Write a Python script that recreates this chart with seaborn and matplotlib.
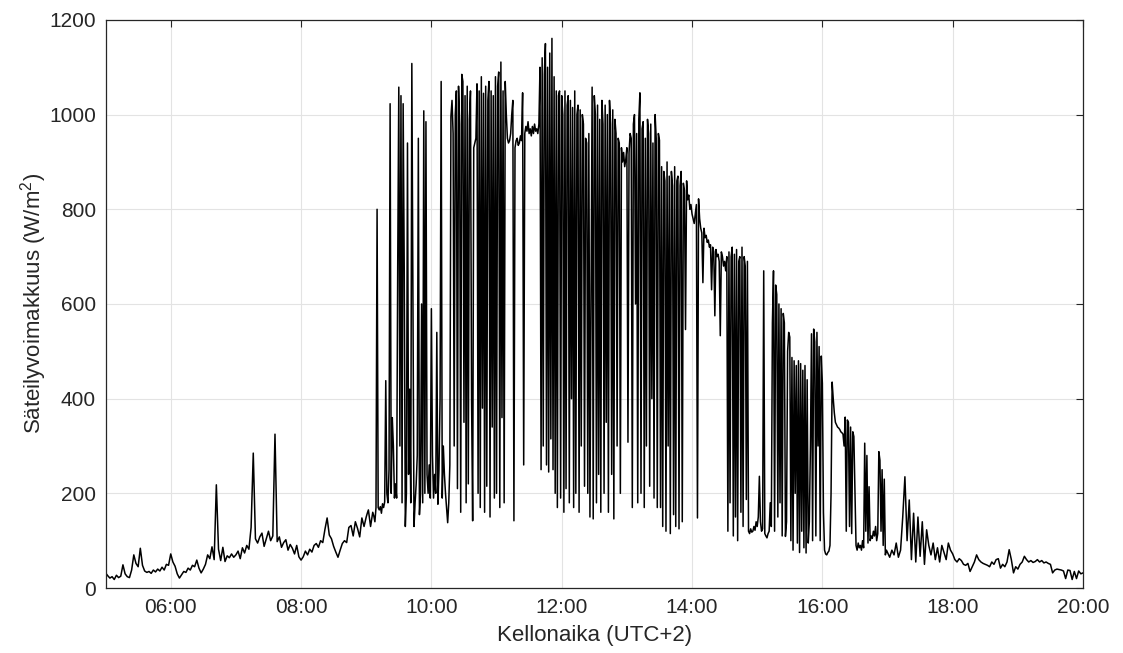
import numpy as np
import pandas as pd
import matplotlib
matplotlib.use('Agg')
import matplotlib.pyplot as plt
import matplotlib.dates as mdates
import seaborn as sns

# Säteilyvoimakkuus (W/m2), yksi lista per tunti (05-08 ja 17-19: 2 min välein, 09-16: 1 min välein)
h05 = [32, 26, 21, 24, 18, 27, 22, 25, 49, 30, 24, 22, 38, 70, 52, 45, 84, 48, 36, 33,
       35, 31, 38, 34, 40, 36, 44, 38, 50, 48]
h06 = [72, 55, 46, 30, 21, 28, 35, 33, 42, 38, 48, 45, 59, 42, 32, 40, 50, 70, 62, 87,
       60, 218, 82, 58, 86, 56, 68, 64, 72, 65]
h07 = [70, 78, 62, 85, 74, 90, 82, 128, 285, 104, 95, 108, 116, 88, 104, 120, 100, 110, 325, 98,
       108, 86, 96, 102, 80, 92, 84, 72, 90, 66]
h08 = [59, 66, 78, 70, 82, 76, 90, 94, 86, 100, 96, 124, 148, 112, 104, 88, 76, 65, 80, 94,
       100, 96, 128, 132, 110, 140, 126, 108, 148, 130]
h09 = [150, 158, 165, 148, 130, 145, 160, 152, 140, 170,
       800, 170, 165, 172, 158, 178, 170, 182, 438, 200,
       180, 250, 1023, 200, 360, 300, 190, 220, 190, 680,
       1058, 300, 1040, 180, 1023, 677, 130, 200, 940, 240,
       420, 180, 1108, 600, 130, 180, 220, 280, 950, 155,
       200, 600, 180, 1008, 200, 985, 240, 200, 260, 190]
h10 = [590, 280, 190, 240, 200, 540, 177, 250, 400, 1070,
       190, 300, 240, 200, 170, 138, 180, 260, 996, 1030,
       960, 300, 1000, 1050, 210, 1060, 980, 160, 1085, 1070,
       350, 1040, 180, 1060, 220, 990, 1050, 400, 142, 930,
       940, 950, 1065, 200, 1050, 170, 1080, 380, 1045, 160,
       1060, 215, 1030, 1070, 150, 1050, 340, 1040, 190, 1080]
h11 = [200, 1060, 1090, 170, 1111, 360, 1050, 180, 1070, 1000,
       950, 940, 945, 960, 1000, 1030, 142, 930, 945, 950,
       935, 940, 955, 945, 1046, 260, 960, 975, 965, 985,
       960, 970, 955, 975, 960, 980, 965, 970, 960, 980,
       1100, 250, 1120, 300, 1085, 1150, 260, 1100, 245, 1130,
       315, 1161, 250, 1080, 200, 1050, 170, 1040, 1050, 190]
h12 = [1040, 1000, 160, 1050, 210, 1020, 1040, 180, 1030, 400,
       1015, 170, 1050, 200, 1000, 1020, 160, 1010, 300, 1000,
       980, 215, 950, 940, 200, 960, 150, 600, 1058, 146,
       1040, 1000, 180, 1020, 240, 990, 160, 1030, 980, 200,
       1020, 350, 1000, 160, 1030, 980, 240, 1010, 146, 990,
       960, 300, 950, 940, 200, 930, 900, 920, 890, 905]
h13 = [930, 308, 920, 960, 950, 170, 980, 1000, 600, 960,
       180, 990, 1046, 200, 970, 985, 170, 950, 300, 990,
       960, 215, 980, 400, 940, 190, 1000, 950, 170, 960,
       946, 170, 890, 130, 880, 860, 120, 900, 300, 870,
       115, 880, 850, 155, 890, 130, 860, 870, 125, 850,
       880, 140, 855, 840, 546, 860, 820, 830, 800, 810]
h14 = [790, 780, 770, 790, 810, 148, 822, 780, 760, 750,
       645, 760, 740, 745, 730, 735, 720, 725, 630, 720,
       710, 575, 715, 700, 705, 690, 533, 710, 700, 680,
       690, 670, 700, 120, 710, 180, 700, 720, 110, 705,
       150, 715, 100, 690, 700, 160, 720, 130, 700, 680,
       187, 690, 120, 115, 125, 118, 120, 130, 122, 140]
h15 = [130, 150, 236, 140, 120, 125, 670, 115, 110, 106,
       115, 120, 180, 130, 560, 670, 120, 640, 620, 150,
       600, 180, 590, 110, 580, 560, 109, 140, 500, 540,
       530, 100, 487, 80, 480, 200, 470, 95, 480, 75,
       474, 120, 460, 85, 470, 74, 440, 95, 140, 300,
       537, 100, 547, 520, 110, 540, 300, 510, 100, 490]
h16 = [432, 160, 80, 72, 70, 75, 78, 90, 200, 435,
       400, 370, 350, 345, 340, 338, 335, 330, 328, 325,
       300, 361, 120, 355, 350, 130, 340, 115, 330, 320,
       200, 90, 80, 95, 85, 90, 80, 100, 85, 306,
       120, 280, 95, 214, 100, 110, 105, 120, 110, 130,
       100, 115, 288, 270, 120, 250, 90, 230, 70, 80]
h17 = [75, 65, 80, 70, 95, 65, 80, 150, 235, 100, 186, 60, 158, 55, 150, 67, 140, 50, 123, 90,
       70, 95, 60, 85, 55, 90, 75, 60, 95, 80]
h18 = [72, 60, 55, 62, 58, 50, 48, 52, 35, 45, 55, 70, 60, 55, 52, 50, 48, 45, 55, 50,
       60, 62, 42, 50, 45, 55, 81, 60, 32, 45]
h19 = [40, 50, 55, 67, 60, 55, 58, 54, 56, 60, 55, 58, 53, 55, 52, 50, 32, 38, 40, 39,
       38, 36, 20, 38, 37, 18, 35, 20, 36, 30]
h20 = [32]

tunnit = list(range(5, 21))
sarjat = [h05, h06, h07, h08, h09, h10, h11, h12, h13, h14, h15, h16, h17, h18, h19, h20]

paiva = pd.Timestamp('2020-06-01')
aika = []
arvo = []
for tunti, sarja in zip(tunnit, sarjat):
    askel = 60 / len(sarja)
    for i, v in enumerate(sarja):
        aika.append(paiva + pd.Timedelta(hours=tunti, minutes=i * askel))
        arvo.append(v)

df = pd.DataFrame({'Aika': aika, 'Sateily': arvo})

sns.set_theme(style='white')
plt.rcParams['font.family'] = ['Liberation Sans', 'DejaVu Sans']
plt.rcParams['mathtext.default'] = 'regular'

fig = plt.figure(figsize=(11.23, 6.53), dpi=100)
ax = fig.add_axes([0.094, 0.0995, 0.8704, 0.87])

sns.lineplot(data=df, x='Aika', y='Sateily', color='black', linewidth=1.1, ax=ax)

ax.set_xlim(paiva + pd.Timedelta(hours=5), paiva + pd.Timedelta(hours=20))
ax.set_ylim(0, 1200)
ax.set_yticks(np.arange(0, 1201, 200))
ax.xaxis.set_major_locator(mdates.HourLocator(byhour=range(6, 21, 2)))
ax.xaxis.set_major_formatter(mdates.DateFormatter('%H:%M'))

ax.grid(True, color='#e3e3e3', linewidth=0.8)
ax.set_axisbelow(True)
for s in ax.spines.values():
    s.set_color('#262626')
    s.set_linewidth(0.9)
ax.tick_params(direction='in', length=5, width=0.8, top=True, right=True,
               labelsize=15, colors='#262626', pad=7)

ax.set_xlabel('Kellonaika (UTC+2)', fontsize=16, color='#262626', labelpad=6)
ax.set_ylabel('Säteilyvoimakkuus (W/m$^2$)', fontsize=16, color='#262626', labelpad=0)

plt.savefig('out.png', dpi=100)
